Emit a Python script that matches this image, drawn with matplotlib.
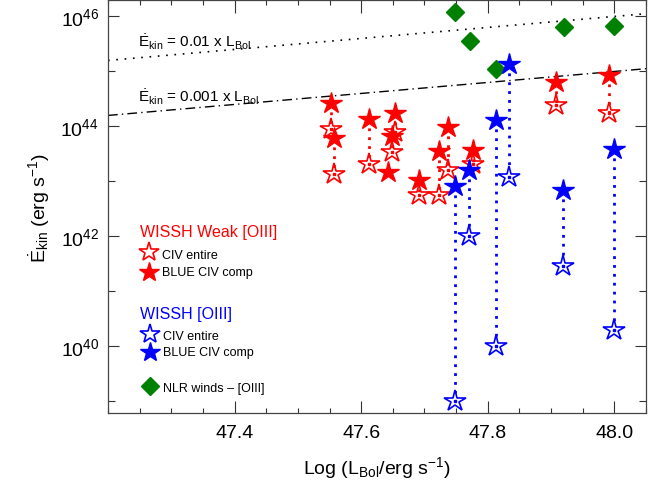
import numpy as np
import matplotlib
matplotlib.use("Agg")
import matplotlib.pyplot as plt
from matplotlib.ticker import FixedLocator, MultipleLocator, NullFormatter

plt.rcParams['font.family'] = ['Liberation Sans', 'DejaVu Sans']
plt.rcParams['mathtext.fontset'] = 'custom'
plt.rcParams['mathtext.rm'] = 'Liberation Sans'
plt.rcParams['mathtext.it'] = 'Liberation Sans:italic'
plt.rcParams['mathtext.bf'] = 'Liberation Sans:bold'

# ---- data (log L_bol, log Edot_kin) ----
weak_lbol = [47.553, 47.557, 47.613, 47.653, 47.648, 47.643, 47.691, 47.723, 47.737, 47.777, 47.908, 47.992]
weak_blue = [44.43, 43.79, 44.14, 44.25, 43.83, 43.17, 43.03, 43.55, 43.99, 43.57, 44.80, 44.94]
weak_entire = [43.95, 43.14, 43.32, 43.90, 43.54, np.nan, 42.75, 42.75, 43.21, 43.32, 44.39, 44.25]

wissh_lbol = [47.749, 47.770, 47.813, 47.833, 47.919, 48.000]
wissh_blue = [42.91, 43.21, 44.11, 45.14, 42.85, 43.59]
wissh_entire = [39.00, 42.00, 40.00, 43.08, 41.47, 40.30]

nlr_lbol = [47.749, 47.772, 47.813, 47.920, 48.000]
nlr_ekin = [46.08, 45.56, 45.05, 45.80, 45.82]

line_fracs = [0.01, 0.001]
xticks = [47.4, 47.6, 47.8, 48.0]
yticks_major = [40, 42, 44, 46]
yticks_minor = [39, 41, 43, 45]

RED = '#ff0000'
BLUE = '#0000ff'
GREEN = '#008000'

fig = plt.figure(figsize=(6.70, 4.81), dpi=100)
ax = fig.add_axes([0.1612, 0.1393, 0.803, 0.8576])
ax.set_yscale('log')
ax.set_xlim(47.2, 48.05)
ax.set_ylim(10**38.79, 10**46.29)

# reference lines
xl = np.array([47.2, 48.05])
ax.plot(xl, line_fracs[0] * 10**xl, color='k', lw=1.2, linestyle=(0, (1, 4)), zorder=1)
ax.plot(xl, line_fracs[1] * 10**xl, color='k', lw=1.0, linestyle=(0, (7, 3, 1, 3)), zorder=1)
ax.text(47.247, 10**45.54, r'$\dot{\mathrm{E}}_{\mathrm{kin}}$ = 0.01 x L$_{\mathrm{Bol}}$',
        fontsize=11, va='center', ha='left')
ax.text(47.247, 10**44.55, r'$\dot{\mathrm{E}}_{\mathrm{kin}}$ = 0.001 x L$_{\mathrm{Bol}}$',
        fontsize=11, va='center', ha='left')

dot_ls = (0, (1, 2.2))

# NLR winds
ax.plot(nlr_lbol, 10**np.array(nlr_ekin), linestyle='none', marker='D', ms=9,
        color=GREEN, mec=GREEN, zorder=3)

# Weak [OIII] sample
for x, b, e in zip(weak_lbol, weak_blue, weak_entire):
    if not np.isnan(e):
        ax.plot([x, x], [10**b, 10**e], color=RED, lw=2, linestyle=dot_ls, zorder=2)
ax.plot(weak_lbol, 10**np.array(weak_entire), linestyle='none', marker='*', ms=16,
        mfc='none', mec=RED, mew=1.2, zorder=4)
ax.plot(weak_lbol, 10**np.array(weak_entire), linestyle='none', marker='s', ms=1.8,
        color=RED, zorder=4)
ax.plot(weak_lbol, 10**np.array(weak_blue), linestyle='none', marker='*', ms=16,
        color=RED, mec=RED, zorder=4)

# WISSH [OIII] sample
for x, b, e in zip(wissh_lbol, wissh_blue, wissh_entire):
    ax.plot([x, x], [10**b, 10**e], color=BLUE, lw=2, linestyle=dot_ls, zorder=5)
ax.plot(wissh_lbol, 10**np.array(wissh_entire), linestyle='none', marker='*', ms=16,
        mfc='white', mec=BLUE, mew=1.2, zorder=6)
ax.plot(wissh_lbol, 10**np.array(wissh_entire), linestyle='none', marker='s', ms=1.8,
        color=BLUE, zorder=6)
ax.plot(wissh_lbol, 10**np.array(wissh_blue), linestyle='none', marker='*', ms=16,
        color=BLUE, mec=BLUE, zorder=6)

# manual legend (axes fraction)
tr = ax.transAxes
ax.text(0.0595, 0.439, 'WISSH Weak [OIII]', color=RED, fontsize=11.5, va='center', ha='left', transform=tr)
ax.plot([0.076], [0.390], marker='*', ms=15, mfc='none', mec=RED, mew=1.2, transform=tr, linestyle='none')
ax.text(0.0997, 0.384, 'CIV entire', fontsize=9, va='center', ha='left', transform=tr)
ax.plot([0.076], [0.3426], marker='*', ms=15, color=RED, transform=tr, linestyle='none')
ax.text(0.0997, 0.3426, 'BLUE CIV comp', fontsize=9, va='center', ha='left', transform=tr)

ax.text(0.0595, 0.240, 'WISSH [OIII]', color=BLUE, fontsize=11.5, va='center', ha='left', transform=tr)
ax.plot([0.078], [0.1915], marker='*', ms=15, mfc='none', mec=BLUE, mew=1.2, transform=tr, linestyle='none')
ax.text(0.1015, 0.186, 'CIV entire', fontsize=9, va='center', ha='left', transform=tr)
ax.plot([0.078], [0.1487], marker='*', ms=15, color=BLUE, transform=tr, linestyle='none')
ax.text(0.1015, 0.147, 'BLUE CIV comp', fontsize=9, va='center', ha='left', transform=tr)

ax.plot([0.078], [0.0646], marker='D', ms=9, color=GREEN, transform=tr, linestyle='none')
ax.text(0.1015, 0.0616, 'NLR winds \u2013 [OIII]', fontsize=9, va='center', ha='left', transform=tr)

# ticks
ax.xaxis.set_major_locator(FixedLocator(xticks))
ax.xaxis.set_minor_locator(MultipleLocator(0.05))
ax.set_xticklabels([f'{t:.1f}' for t in xticks])
ax.yaxis.set_major_locator(FixedLocator([10.0**k for k in yticks_major]))
ax.yaxis.set_minor_locator(FixedLocator([10.0**k for k in yticks_minor]))
ax.set_yticklabels([f'$10^{{{k}}}$' for k in yticks_major])
ax.yaxis.set_minor_formatter(NullFormatter())
ax.tick_params(axis='both', which='both', direction='in', top=True, right=True, width=0.8, colors='#333333',
               labelcolor='black')
ax.tick_params(axis='x', which='major', length=9, labelsize=14, pad=8)
ax.tick_params(axis='x', which='minor', length=3.5)
ax.tick_params(axis='y', which='major', length=8, labelsize=14, pad=6.5)
ax.tick_params(axis='y', which='minor', length=5)
for s in ax.spines.values():
    s.set_color('#444444')
    s.set_linewidth(0.9)

ax.set_xlabel(r'Log (L$_{\mathrm{Bol}}$/erg s$^{-1}$)', fontsize=14, labelpad=9)
ax.set_ylabel(r'$\dot{\mathrm{E}}_{\mathrm{kin}}$ (erg s$^{-1}$)', fontsize=14, labelpad=6)

fig.savefig('out.png', dpi=100)
